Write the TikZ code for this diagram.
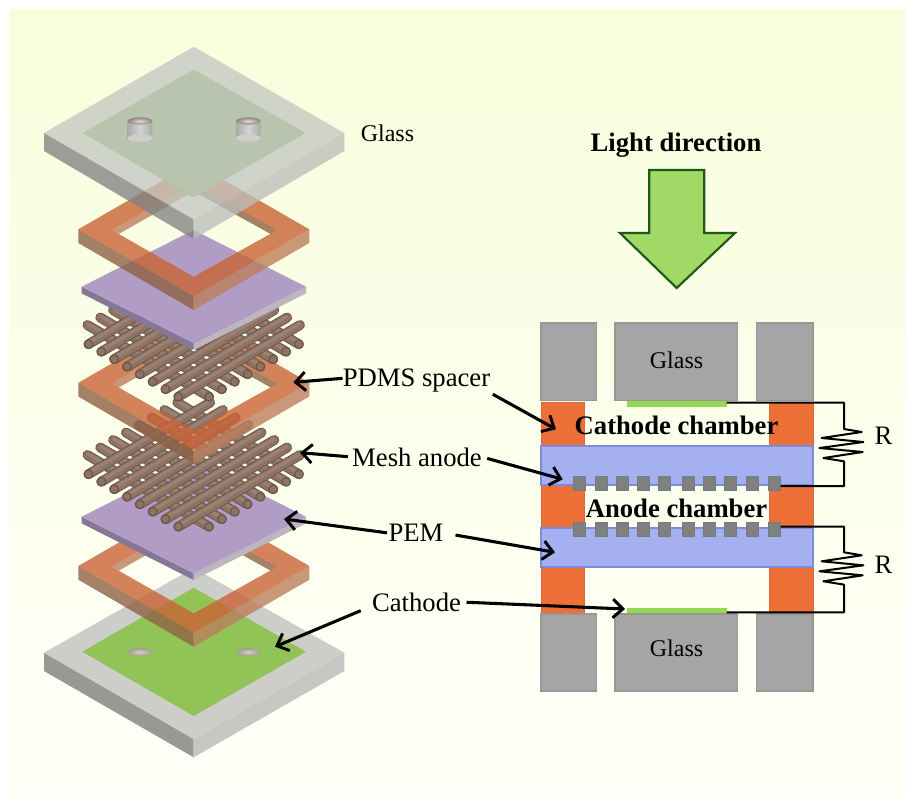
\documentclass[tikz,border=0pt]{standalone}
\usepackage{fontspec}
\setmainfont{Liberation Serif}
\usetikzlibrary{arrows.meta}
\definecolor{bgtop}{HTML}{F8FEDC}
\definecolor{bgbot}{HTML}{FFFFF8}
\definecolor{gltop}{HTML}{C4C7C2}
\definecolor{glin}{HTML}{B8C4AE}
\definecolor{glleft}{HTML}{828281}
\definecolor{glright}{HTML}{BBBEB9}
\definecolor{gbtop}{HTML}{CDCECA}
\definecolor{gbleft}{HTML}{999894}
\definecolor{gbright}{HTML}{C6C7C3}
\definecolor{cathgreen}{HTML}{92C357}
\definecolor{sptop}{HTML}{CA6336}
\definecolor{spleft}{HTML}{8F6244}
\definecolor{spright}{HTML}{BC7F5C}
\definecolor{pemtop}{HTML}{B09CC4}
\definecolor{pemleft}{HTML}{857795}
\definecolor{pemright}{HTML}{BDB5C0}
\definecolor{bardark}{HTML}{6C564A}
\definecolor{barmid}{HTML}{8D7364}
\definecolor{barlight}{HTML}{9A8172}
\definecolor{blockgray}{HTML}{A5A5A5}
\definecolor{blockedge}{HTML}{979797}
\definecolor{elecgreen}{HTML}{92D850}
\definecolor{colorange}{HTML}{ED7038}
\definecolor{coledge}{HTML}{D9683A}
\definecolor{memblue}{HTML}{A4B0F0}
\definecolor{memedge}{HTML}{7C8CD8}
\definecolor{meshgray}{HTML}{808080}
\definecolor{meshedge}{HTML}{6F7F80}
\definecolor{arrowfill}{HTML}{A0D966}
\definecolor{arrowedge}{HTML}{1F5A14}
\definecolor{holein}{HTML}{D2D0BE}
\definecolor{holeout}{HTML}{9E9E92}
\definecolor{cylside}{HTML}{A9AAA5}
\definecolor{cylmid}{HTML}{D3D4CF}
\definecolor{cylfoot}{HTML}{CFD0CB}
\definecolor{cylin}{HTML}{E4DAD5}
\definecolor{cylout}{HTML}{8A8582}
\tikzset{
  label20/.style={inner sep=0pt,font=\fontsize{20pt}{22pt}\selectfont},
  label18/.style={inner sep=0pt,font=\fontsize{18pt}{20pt}\selectfont},
  bold20/.style={inner sep=0pt,font=\fontsize{20pt}{22pt}\selectfont\bfseries},
  callout/.style={draw=black,line width=2.3pt,-{Straight Barb[length=7.5pt,width=14pt,line width=2.2pt]}},
  wire/.style={draw=black,line width=1.5pt,line join=round},
  block/.style={fill=blockgray,draw=blockedge,line width=1pt},
  elec/.style={fill=elecgreen},
  column/.style={fill=colorange,draw=coledge,line width=.7pt},
  membrane/.style={fill=memblue,draw=memedge,line width=1.5pt},
  meshsq/.style={fill=meshgray,draw=meshedge,line width=.6pt},
}
\newcommand{\spacerplate}[1]{%
\begin{scope}[shift={(0,#1)},fill opacity=.8]
  \fill[spright] (111.7,230) -- (193.7,183.3) -- (193.7,191.3) -- (118.7,234) -- cycle;
  \fill[spleft] (193.7,183.3) -- (277.3,230) -- (270.7,234) -- (193.7,191.3) -- cycle;
  \fill[spleft] (78.3,229.3) -- (193.7,296) -- (193.7,310) -- (78.3,243) -- cycle;
  \fill[spright] (309.3,229.3) -- (193.7,296) -- (193.7,310) -- (309.3,243) -- cycle;
  \fill[sptop,even odd rule] (78.3,229.3) -- (193.7,162.7) -- (309.3,229.3) -- (193.7,296) -- cycle
     (111.7,230) -- (193.7,183.3) -- (277.3,230) -- (193.7,276.7) -- cycle;
\end{scope}}
\newcommand{\pemplate}[1]{%
\begin{scope}[shift={(0,#1)}]
  \fill[pemleft] (81.7,286.7) -- (193.7,343.3) -- (193.7,350) -- (81.7,293.4) -- cycle;
  \fill[pemright] (306,286.7) -- (193.7,343.3) -- (193.7,350) -- (306,293.4) -- cycle;
  \fill[pemtop] (81.7,286.7) -- (193.7,230) -- (306,286.7) -- (193.7,343.3) -- cycle;
\end{scope}}
\newcommand{\meshbars}[1]{%
\begin{scope}[shift={(0,#1)},line cap=round]
  \foreach \i in {0,...,7}{
    \pgfmathsetmacro{\ax}{209.1+12.83*\i}\pgfmathsetmacro{\ay}{526.7-7.5*\i}
    \pgfmathsetmacro{\bx}{87.4+12.83*\i}\pgfmathsetmacro{\by}{455-7.5*\i}
    \draw[bardark,line width=7.4pt] (\ax,\ay) -- (\bx,\by);
    \draw[barmid,line width=6pt] (\ax,\ay) -- (\bx,\by);
    \draw[barlight,line width=2.4pt] (\ax+.6,\ay-1) -- (\bx+.6,\by-1);
    \fill[barmid,draw=bardark,line width=.9pt] (\ax,\ay) circle[radius=4.3];
  }
  \foreach \i in {0,...,7}{
    \pgfmathsetmacro{\ax}{178.3-12.83*\i}\pgfmathsetmacro{\ay}{526.7-7.5*\i}
    \pgfmathsetmacro{\bx}{300-12.83*\i}\pgfmathsetmacro{\by}{455-7.5*\i}
    \draw[bardark,line width=7.4pt] (\ax,\ay) -- (\bx,\by);
    \draw[barmid,line width=6pt] (\ax,\ay) -- (\bx,\by);
    \draw[barlight,line width=2.4pt] (\ax-.6,\ay-1) -- (\bx-.6,\by-1);
    \fill[barmid,draw=bardark,line width=.9pt] (\ax,\ay) circle[radius=4.3];
  }
\end{scope}}
\newcommand{\cyl}[1]{%
  \shade[left color=cylside,right color=cylside,middle color=cylmid]
    (#1-12.3,121) -- (#1-12.3,138) arc[x radius=12.3,y radius=3.7,start angle=180,end angle=360] -- (#1+12.3,121) -- cycle;
  \fill[cylfoot] (#1-12.3,138) arc[x radius=12.3,y radius=3.7,start angle=180,end angle=360] arc[x radius=12.3,y radius=3.7,start angle=0,end angle=180];
  \shade[inner color=cylin,outer color=cylout] (#1,121) ellipse[x radius=12.3,y radius=3.6];
}
\begin{document}
\begin{tikzpicture}[x=0.75pt,y=-0.75pt]
\useasboundingbox (0,0) rectangle (909,800);
\fill[white] (0,0) rectangle (909,800);
\shade[top color=bgtop,bottom color=bgbot] (9,9) rectangle (905,796);

% ---- exploded stack, bottom to top ----
% bottom glass
\fill[gbleft] (44,652.7) -- (193.7,739) -- (193.7,757.3) -- (44,671) -- cycle;
\fill[gbright] (344.3,652.7) -- (193.7,739) -- (193.7,757.3) -- (344.3,671) -- cycle;
\fill[gbtop] (44,652.7) -- (193.7,568) -- (344.3,652.7) -- (193.7,739) -- cycle;
\fill[cathgreen] (82.3,651.7) -- (193.7,587.7) -- (306,651.7) -- (193.7,716) -- cycle;
\shade[inner color=holein,outer color=holeout] (140,652) ellipse[x radius=12.3,y radius=4];
\shade[inner color=holein,outer color=holeout] (248.3,652) ellipse[x radius=12.3,y radius=4];
\spacerplate{336.7}
\pemplate{230}
\meshbars{0}
\spacerplate{153.5}
\meshbars{-130}
\pemplate{0}
\spacerplate{0}
% top glass
\begin{scope}[fill opacity=.78]
\fill[glleft] (44,133) -- (193.7,219.3) -- (193.7,239) -- (44,151) -- cycle;
\fill[glright] (344.3,133) -- (193.7,219.3) -- (193.7,239) -- (344.3,151) -- cycle;
\fill[gltop,even odd rule] (44,133) -- (193.7,46.7) -- (344.3,133) -- (193.7,219.3) -- cycle
   (82.3,133) -- (193.7,69.3) -- (306,133) -- (193.7,197.7) -- cycle;
\end{scope}
\fill[glin] (82.3,133) -- (193.7,69.3) -- (306,133) -- (193.7,197.7) -- cycle;
\cyl{140}
\cyl{248.3}

% ---- cross section ----
% columns
\fill[column] (541,402) rectangle (584,614);
\fill[column] (769.3,402) rectangle (813,614);
% glass blocks
\draw[block] (541,323) rectangle (596.7,400.5);
\draw[block] (615,323) rectangle (737.7,400.5);
\draw[block] (756.7,323) rectangle (813,400.5);
\draw[block] (541,614) rectangle (596.7,691);
\draw[block] (615,614) rectangle (737.7,691);
\draw[block] (756.7,614) rectangle (813,691);
% cathodes
\fill[elec] (626.7,401) rectangle (726.7,406.7);
\fill[elec] (626.7,607.7) rectangle (726.7,613.3);
% membranes
\draw[membrane] (541,445.7) rectangle (813,485);
\draw[membrane] (541,528.3) rectangle (813,567.3);
% mesh squares
\foreach \c in {579.3,601,622.3,643.3,664.7,688,709.3,730.3,752,774.7}{
  \draw[meshsq] (\c-6,476) rectangle (\c+6,490.7);
  \draw[meshsq] (\c-6,522.3) rectangle (\c+6,536.7);
}
% named wire ends
\coordinate (topcath) at (726.7,402.7);
\coordinate (botcath) at (726.7,612.3);
\coordinate (topmesh) at (780.7,486);
\coordinate (botmesh) at (780.7,526.7);
\coordinate (rone) at (844,429);
\coordinate (rtwo) at (844,552.3);
% resistor circuits
\draw[wire] (topcath) -- (844,402.7) -- (rone) -- ++(17.7,3) -- ++(-40,6) -- ++(41.7,4) -- ++(-44,6) -- ++(43.3,4) -- ++(-39.3,6) -- ++(20.6,3.3) -- (844,486) -- (topmesh);
\draw[wire] (botmesh) -- (844,526.7) -- (rtwo) -- ++(17.7,3) -- ++(-40,6) -- ++(41.7,4) -- ++(-44,6) -- ++(43.3,4) -- ++(-39.3,6) -- ++(20.6,3.3) -- (844,612.3) -- (botcath);

% light arrow
\filldraw[fill=arrowfill,draw=arrowedge,line width=1.6pt,line join=miter]
  (649.3,170) -- (704.3,170) -- (704.3,233) -- (735,233) -- (676.7,288) -- (620,233) -- (649.3,233) -- cycle;

% texts
\node[label18] (glassa) at (387.5,133) {Glass};
\node[bold20] (light) at (676,145) {Light direction};
\node[label18] (glassb) at (676.5,360) {Glass};
\node[label18] (glassc) at (676.5,648) {Glass};
\node[bold20] (cathch) at (676.5,425) {Cathode chamber};
\node[bold20] (anoch) at (676.5,508) {Anode chamber};
\node[label20] (rlabela) at (883.5,436) {R};
\node[label20] (rlabelb) at (883.5,565) {R};
\node[label20] (pdms) at (416.5,381) {PDMS spacer};
\node[label20] (meshl) at (417,457) {Mesh anode};
\node[label20] (peml) at (416,533) {PEM};
\node[label20] (cathl) at (416.5,602) {Cathode};

% callout targets
\coordinate (pdmsL) at (293.3,382.3);
\coordinate (pdmsR) at (556,429.3);
\coordinate (meshL) at (300,452.7);
\coordinate (meshR) at (562.7,479.3);
\coordinate (pemL) at (284,519);
\coordinate (pemR) at (555,552.3);
\coordinate (cathL) at (275,646.7);
\coordinate (cathR) at (625,609);
\draw[callout] ([yshift=2pt]pdms.west) -- (pdmsL);
\draw[callout,shorten <=2pt] (pdms.south east) -- (pdmsR);
\draw[callout,shorten <=4pt] (meshl.east) -- (meshR);
\draw[callout,shorten <=3pt] (meshl.west) -- (meshL);
\draw[callout,shorten <=1pt] (peml.west) -- (pemL);
\draw[callout,shorten <=9pt] (peml.east) -- (pemR);
\draw[callout,shorten <=9pt] ([yshift=-3pt]cathl.west) -- (cathL);
\draw[callout,shorten <=4pt] (cathl.east) -- (cathR);
\end{tikzpicture}
\end{document}
